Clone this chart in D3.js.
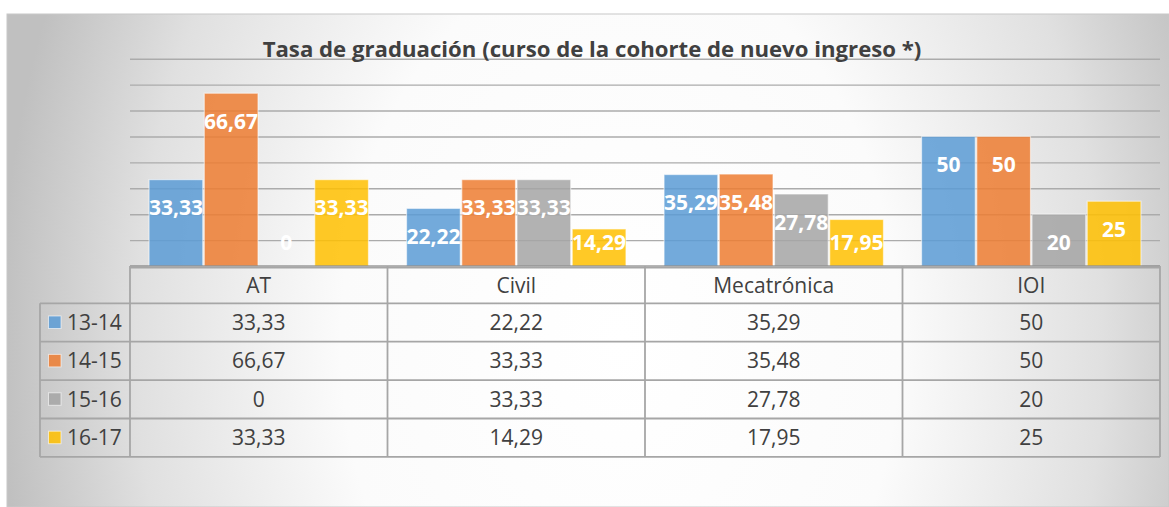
<!DOCTYPE html>
<html><head><meta charset="utf-8">
<script src="https://cdn.jsdelivr.net/npm/d3@7"></script>
<style>html,body{margin:0;padding:0;background:#fff;} svg{display:block;}</style>
</head><body>
<svg id="chart" width="1169" height="507"></svg>
<script>
const titleText = "Tasa de graduación (curso de la cohorte de nuevo ingreso *)";
const categories = ["AT", "Civil", "Mecatrónica", "IOI"];
const seriesNames = ["13-14", "14-15", "15-16", "16-17"];
const values1314 = [33.33, 22.22, 35.29, 50];
const values1415 = [66.67, 33.33, 35.48, 50];
const values1516 = [0, 33.33, 27.78, 20];
const values1617 = [33.33, 14.29, 17.95, 25];
const seriesColors = ["#5b9bd5", "#ed7d31", "#a5a5a5", "#ffc000"];
const yTicks = [0, 10, 20, 30, 40, 50, 60, 70, 80];

const seriesValues = [values1314, values1415, values1516, values1617];
const series = seriesNames.map((n, i) => ({name: n, values: seriesValues[i], color: seriesColors[i]}));

const locale = d3.formatLocale({decimal: ",", thousands: ".", grouping: [3], currency: ["", "€"]});
const fmt = locale.format(".2~f");

const svg = d3.select("#chart");
const FONT = "'Open Sans', Lato, sans-serif";

// background
const defs = svg.append("defs");
const grad = defs.append("radialGradient").attr("id", "bg")
  .attr("gradientUnits", "userSpaceOnUse")
  .attr("cx", 620).attr("cy", 340).attr("r", 620)
  .attr("gradientTransform", "translate(620,340) scale(1,1.4) translate(-620,-340)");
grad.append("stop").attr("offset", "0%").attr("stop-color", "#ffffff");
grad.append("stop").attr("offset", "45%").attr("stop-color", "#fbfbfb");
grad.append("stop").attr("offset", "78%").attr("stop-color", "#e0e0e0");
grad.append("stop").attr("offset", "100%").attr("stop-color", "#c0c0c0");

svg.append("rect").attr("x", 7).attr("y", 14).attr("width", 1162).attr("height", 493)
  .attr("fill", "url(#bg)").attr("stroke", "#c8c8c8").attr("stroke-width", 1);

// scales
const plotLeft = 130, plotRight = 1160;
const y = d3.scaleLinear().domain([0, 80]).range([266, 58.7]);
const x0 = d3.scaleBand().domain(categories).range([plotLeft, plotRight]).padding(0);
const groupPad = 18.3;
const x1 = d3.scaleBand().domain(seriesNames).range([groupPad, x0.bandwidth() - groupPad]).padding(0);

// gridlines
const grid = svg.append("g").attr("transform", `translate(${plotLeft},0)`)
  .call(d3.axisLeft(y).tickValues(yTicks.slice(1)).tickSize(-(plotRight - plotLeft)).tickFormat(""));
grid.select(".domain").remove();
grid.selectAll(".tick line").attr("stroke", "#ababab").attr("stroke-width", 1.4);

// title (fitted to the reference width)
const title = svg.append("text").attr("x", 592).attr("y", 57)
  .attr("text-anchor", "middle").attr("font-family", FONT).attr("font-weight", "bold")
  .attr("font-size", 21).attr("fill", "#404040").text(titleText);
const tw = title.node().getComputedTextLength();
if (tw > 0) title.attr("font-size", 21 * 659 / tw);

// bars
const groups = svg.append("g").selectAll("g").data(categories).join("g")
  .attr("transform", d => `translate(${x0(d)},0)`);
groups.each(function(cat, ci) {
  const g = d3.select(this);
  series.forEach(s => {
    const v = s.values[ci];
    g.append("rect")
      .attr("x", x1(s.name) + 0.75).attr("width", x1.bandwidth() - 1.5)
      .attr("y", y(v)).attr("height", y(0) - y(v))
      .attr("fill", s.color).attr("fill-opacity", 0.85)
      .attr("stroke", "#ffffff").attr("stroke-opacity", 0.55).attr("stroke-width", 1.2);
  });
  series.forEach(s => {
    const v = s.values[ci];
    const cy = Math.min(y(v) + 28, y(0) - 23.5);
    g.append("text")
      .attr("x", x1(s.name) + x1.bandwidth() / 2).attr("y", cy).attr("dy", "0.36em")
      .attr("text-anchor", "middle").attr("font-family", FONT).attr("font-weight", "bold")
      .attr("font-size", 21).attr("fill", "#ffffff").text(fmt(v));
  });
});

// axis line
svg.append("line").attr("x1", plotLeft).attr("x2", plotRight).attr("y1", 266).attr("y2", 266)
  .attr("stroke", "#6f6f6f").attr("stroke-width", 1.2);

// data table
const rowTop = 266, headerH = 37.3, rowH = 38.4;
const legendLeft = 40;
const tbl = svg.append("g");
const lineColor = "#a6a6a6";
const TS = 21;
categories.forEach(c => {
  tbl.append("text").attr("x", x0(c) + x0.bandwidth() / 2).attr("y", rowTop + headerH / 2 + 1)
    .attr("dy", "0.36em").attr("text-anchor", "middle").attr("font-family", FONT)
    .attr("font-size", TS).attr("fill", "#404040").text(c);
});
series.forEach((s, ri) => {
  const top = rowTop + headerH + ri * rowH;
  const cy = top + rowH / 2;
  tbl.append("rect").attr("x", 48.5).attr("y", cy - 6.5).attr("width", 12.5).attr("height", 12.5)
    .attr("fill", s.color).attr("fill-opacity", 0.85).attr("stroke", "#ffffff").attr("stroke-opacity", 0.6);
  tbl.append("text").attr("x", 67).attr("y", cy).attr("dy", "0.36em").attr("font-family", FONT)
    .attr("font-size", TS).attr("fill", "#404040").text(s.name);
  categories.forEach((c, ci) => {
    tbl.append("text").attr("x", x0(c) + x0.bandwidth() / 2).attr("y", cy).attr("dy", "0.36em")
      .attr("text-anchor", "middle").attr("font-family", FONT)
      .attr("font-size", TS).attr("fill", "#404040").text(fmt(s.values[ci]));
  });
});
const bottom = rowTop + headerH + series.length * rowH;
tbl.append("line").attr("x1", plotLeft).attr("x2", plotRight).attr("y1", rowTop + 1.5).attr("y2", rowTop + 1.5)
  .attr("stroke", lineColor).attr("stroke-width", 1.8);
for (let i = 0; i <= series.length; i++) {
  const yy = rowTop + headerH + i * rowH;
  tbl.append("line").attr("x1", legendLeft).attr("x2", plotRight).attr("y1", yy).attr("y2", yy)
    .attr("stroke", lineColor).attr("stroke-width", 1.8);
}
tbl.append("line").attr("x1", legendLeft).attr("x2", legendLeft).attr("y1", rowTop + headerH).attr("y2", bottom)
  .attr("stroke", lineColor).attr("stroke-width", 1.8);
categories.forEach(c => {
  tbl.append("line").attr("x1", x0(c)).attr("x2", x0(c)).attr("y1", rowTop).attr("y2", bottom)
    .attr("stroke", lineColor).attr("stroke-width", 1.8);
});
tbl.append("line").attr("x1", plotRight).attr("x2", plotRight).attr("y1", rowTop).attr("y2", bottom)
  .attr("stroke", lineColor).attr("stroke-width", 1.8);
</script>
</body></html>
